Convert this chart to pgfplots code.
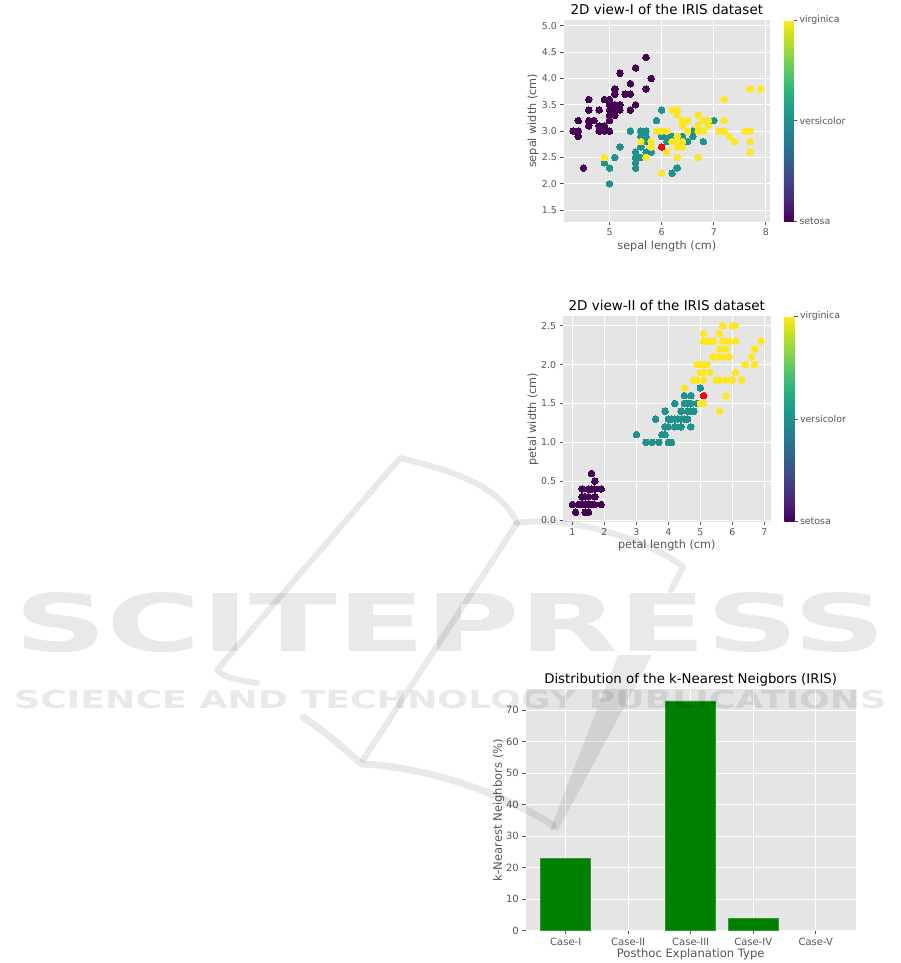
\documentclass[border=0pt]{standalone}
\usepackage{fontspec}
\setmainfont{DejaVu Sans}
\usepackage{graphicx}
\usepackage{pgfplots}
\pgfplotsset{compat=1.18}
\usepackage{pgfplotstable}

\definecolor{ggbg}{HTML}{E5E5E5}
\definecolor{ggtext}{HTML}{555555}
\definecolor{setosa}{HTML}{440154}
\definecolor{versi}{HTML}{21918C}
\definecolor{virgi}{HTML}{FDE725}
\definecolor{bargreen}{HTML}{008000}
\definecolor{wm}{gray}{0.915}

\pgfplotstableread{
sl sw pl pw
5.1 3.5 1.4 0.2
4.9 3.0 1.4 0.2
4.7 3.2 1.3 0.2
4.6 3.1 1.5 0.2
5.0 3.6 1.4 0.2
5.4 3.9 1.7 0.4
4.6 3.4 1.4 0.3
5.0 3.4 1.5 0.2
4.4 2.9 1.4 0.2
4.9 3.1 1.5 0.1
5.4 3.7 1.5 0.2
4.8 3.4 1.6 0.2
4.8 3.0 1.4 0.1
4.3 3.0 1.1 0.1
5.8 4.0 1.2 0.2
5.7 4.4 1.5 0.4
5.4 3.9 1.3 0.4
5.1 3.5 1.4 0.3
5.7 3.8 1.7 0.3
5.1 3.8 1.5 0.3
5.4 3.4 1.7 0.2
5.1 3.7 1.5 0.4
4.6 3.6 1.0 0.2
5.1 3.3 1.7 0.5
4.8 3.4 1.9 0.2
5.0 3.0 1.6 0.2
5.0 3.4 1.6 0.4
5.2 3.5 1.5 0.2
5.2 3.4 1.4 0.2
4.7 3.2 1.6 0.2
4.8 3.1 1.6 0.2
5.4 3.4 1.5 0.4
5.2 4.1 1.5 0.1
5.5 4.2 1.4 0.2
4.9 3.1 1.5 0.2
5.0 3.2 1.2 0.2
5.5 3.5 1.3 0.2
4.9 3.6 1.4 0.1
4.4 3.0 1.3 0.2
5.1 3.4 1.5 0.2
5.0 3.5 1.3 0.3
4.5 2.3 1.3 0.3
4.4 3.2 1.3 0.2
5.0 3.5 1.6 0.6
5.1 3.8 1.9 0.4
4.8 3.0 1.4 0.3
5.1 3.8 1.6 0.2
4.6 3.2 1.4 0.2
5.3 3.7 1.5 0.2
5.0 3.3 1.4 0.2
}\setosatab

\pgfplotstableread{
sl sw pl pw
7.0 3.2 4.7 1.4
6.4 3.2 4.5 1.5
6.9 3.1 4.9 1.5
5.5 2.3 4.0 1.3
6.5 2.8 4.6 1.5
5.7 2.8 4.5 1.3
6.3 3.3 4.7 1.6
4.9 2.4 3.3 1.0
6.6 2.9 4.6 1.3
5.2 2.7 3.9 1.4
5.0 2.0 3.5 1.0
5.9 3.0 4.2 1.5
6.0 2.2 4.0 1.0
6.1 2.9 4.7 1.4
5.6 2.9 3.6 1.3
6.7 3.1 4.4 1.4
5.6 3.0 4.5 1.5
5.8 2.7 4.1 1.0
6.2 2.2 4.5 1.5
5.6 2.5 3.9 1.1
5.9 3.2 4.8 1.8
6.1 2.8 4.0 1.3
6.3 2.5 4.9 1.5
6.1 2.8 4.7 1.2
6.4 2.9 4.3 1.3
6.6 3.0 4.4 1.4
6.8 2.8 4.8 1.4
6.7 3.0 5.0 1.7
6.0 2.9 4.5 1.5
5.7 2.6 3.5 1.0
5.5 2.4 3.8 1.1
5.5 2.4 3.7 1.0
5.8 2.7 3.9 1.2
6.0 2.7 5.1 1.6
5.4 3.0 4.5 1.5
6.0 3.4 4.5 1.6
6.7 3.1 4.7 1.5
6.3 2.3 4.4 1.3
5.6 3.0 4.1 1.3
5.5 2.5 4.0 1.3
5.5 2.6 4.4 1.2
6.1 3.0 4.6 1.4
5.8 2.6 4.0 1.2
5.0 2.3 3.3 1.0
5.6 2.7 4.2 1.3
5.7 3.0 4.2 1.2
5.7 2.9 4.2 1.3
6.2 2.9 4.3 1.3
5.1 2.5 3.0 1.1
5.7 2.8 4.1 1.3
}\versitab

\pgfplotstableread{
sl sw pl pw
6.3 3.3 6.0 2.5
5.8 2.7 5.1 1.9
7.1 3.0 5.9 2.1
6.3 2.9 5.6 1.8
6.5 3.0 5.8 2.2
7.6 3.0 6.6 2.1
4.9 2.5 4.5 1.7
7.3 2.9 6.3 1.8
6.7 2.5 5.8 1.8
7.2 3.6 6.1 2.5
6.5 3.2 5.1 2.0
6.4 2.7 5.3 1.9
6.8 3.0 5.5 2.1
5.7 2.5 5.0 2.0
5.8 2.8 5.1 2.4
6.4 3.2 5.3 2.3
6.5 3.0 5.5 1.8
7.7 3.8 6.7 2.2
7.7 2.6 6.9 2.3
6.0 2.2 5.0 1.5
6.9 3.2 5.7 2.3
5.6 2.8 4.9 2.0
7.7 2.8 6.7 2.0
6.3 2.7 4.9 1.8
6.7 3.3 5.7 2.1
7.2 3.2 6.0 1.8
6.2 2.8 4.8 1.8
6.1 3.0 4.9 1.8
6.4 2.8 5.6 2.1
7.2 3.0 5.8 1.6
7.4 2.8 6.1 1.9
7.9 3.8 6.4 2.0
6.4 2.8 5.6 2.2
6.3 2.8 5.1 1.5
6.1 2.6 5.6 1.4
7.7 3.0 6.1 2.3
6.3 3.4 5.6 2.4
6.4 3.1 5.5 1.8
6.0 3.0 4.8 1.8
6.9 3.1 5.4 2.1
6.7 3.1 5.6 2.4
6.9 3.1 5.1 2.3
5.8 2.7 5.1 1.9
6.8 3.2 5.9 2.3
6.7 3.3 5.7 2.5
6.7 3.0 5.2 2.3
6.3 2.5 5.0 1.9
6.5 3.0 5.2 2.0
6.2 3.4 5.4 2.3
5.9 3.0 5.1 1.8
}\virgitab

\pgfplotstableread{
sl sw pl pw
6.0 2.7 5.1 1.6
}\querytab

\pgfplotsset{
  ggstyle/.style={
    scale only axis,
    axis background/.style={fill=ggbg},
    axis line style={draw=none},
    grid=major,
    grid style={white, line width=1pt},
    tick align=outside,
    xtick pos=left, ytick pos=left,
    major tick length=3.3pt,
    tick style={color=ggtext, line width=0.8pt},
    ticklabel style={font=\fontsize{9.4}{11}\selectfont, color=ggtext, inner sep=0pt},
    xticklabel style={anchor=north, yshift=-3.8pt},
    yticklabel style={anchor=east, xshift=-3.4pt},
    /pgf/number format/assume math mode=true,
    label style={font=\fontsize{11.25}{13}\selectfont, color=ggtext},
    title style={font=\fontsize{13.5}{16}\selectfont, color=black, anchor=base, at={(0.5,1)}},
  },
  cbstyle/.style={
    colorbar style={
      at={(parent axis.north east)}, anchor=north west, xshift=5.3pt,
      width=10pt, height=#1, scale only axis,
      axis line style={draw=none},
      ytick={0,1,2}, yticklabels={setosa,versicolor,virginica},
      tick align=outside, major tick length=3.3pt,
      tick style={color=ggtext, line width=0.8pt},
      ytick pos=right, yticklabel pos=right,
      yticklabel style={anchor=west, xshift=2.2pt, inner sep=0pt, font=\fontsize{9.4}{11}\selectfont, color=ggtext},
    },
  },
  pts/.style={only marks, mark=*, mark size=3.3pt, color=#1, mark options={fill=#1, draw=#1, line width=0pt}},
}

\begin{document}
\begin{tikzpicture}
\path[use as bounding box] (0pt,0pt) rectangle (901pt,-963pt);

% ---------- View I ----------
\begin{axis}[ggstyle,
  at={(563.7pt,-221.7pt)}, anchor=south west,
  width=206.3pt, height=201.7pt,
  xmin=4.12, xmax=8.08, ymin=1.28, ymax=5.11,
  xtick={5,6,7,8},
  ytick={1.5,2,2.5,3,3.5,4,4.5,5},
  yticklabels={1.5,2.0,2.5,3.0,3.5,4.0,4.5,5.0},
  title={2D view-I of the IRIS dataset},
  xlabel={sepal length (cm)}, ylabel={sepal width (cm)},
  xlabel style={at={(axis description cs:0.5,-0.140)}, anchor=base},
  ylabel style={at={(axis description cs:-0.134,0.5)}, anchor=base},
  colormap/viridis, colorbar, point meta min=0, point meta max=2,
  cbstyle=201.7pt,
]
\addplot[pts=setosa] table[x=sl, y=sw] {\setosatab};
\addplot[pts=versi] table[x=sl, y=sw] {\versitab};
\addplot[pts=virgi] table[x=sl, y=sw] {\virgitab};
\addplot[pts=red] table[x=sl, y=sw] {\querytab};
\end{axis}

% ---------- View II ----------
\begin{axis}[ggstyle,
  at={(563pt,-521.6pt)}, anchor=south west,
  width=207.5pt, height=205.2pt,
  xmin=0.705, xmax=7.195, ymin=-0.02, ymax=2.62,
  xtick={1,2,3,4,5,6,7},
  ytick={0,0.5,1,1.5,2,2.5},
  yticklabels={0.0,0.5,1.0,1.5,2.0,2.5},
  title={2D view-II of the IRIS dataset},
  xlabel={petal length (cm)}, ylabel={petal width (cm)},
  xlabel style={at={(axis description cs:0.5,-0.130)}, anchor=base},
  ylabel style={at={(axis description cs:-0.130,0.5)}, anchor=base},
  colormap/viridis, colorbar, point meta min=0, point meta max=2,
  cbstyle=205.2pt,
]
\addplot[pts=setosa] table[x=pl, y=pw] {\setosatab};
\addplot[pts=versi] table[x=pl, y=pw] {\versitab};
\addplot[pts=virgi] table[x=pl, y=pw] {\virgitab};
\addplot[pts=red] table[x=pl, y=pw] {\querytab};
\end{axis}

% ---------- Bar chart ----------
\begin{axis}[ggstyle,
  at={(525.7pt,-930.7pt)}, anchor=south west,
  width=330pt, height=241.3pt,
  xmin=-0.64, xmax=4.64, ymin=0, ymax=76.65,
  xtick={0,1,2,3,4},
  xticklabels={Case-I,Case-II,Case-III,Case-IV,Case-V},
  ytick={0,10,20,30,40,50,60,70},
  ticklabel style={font=\fontsize{10}{12}\selectfont},
  label style={font=\fontsize{11.6}{13}\selectfont},
  title style={font=\fontsize{13.3}{16}\selectfont},
  ybar, bar width=0.8,
  title={Distribution of the k-Nearest Neigbors (IRIS)},
  xlabel={Posthoc Explanation Type}, ylabel={k-Nearest Neighbors (\%)},
  xlabel style={at={(axis description cs:0.5,-0.111)}, anchor=base},
  ylabel style={at={(axis description cs:-0.072,0.5)}, anchor=base},
]
\addplot[fill=bargreen, draw=bargreen!80!white, line width=0.5pt, restrict y to domain=0.5:1000] coordinates {(0,23) (1,0) (2,73) (3,4) (4,0)};
\end{axis}

% ---------- watermark ----------
\begin{scope}[blend mode=multiply, x=1pt, y=1pt]
\node[anchor=south west, inner sep=0pt, text=wm] at (14,-653) {\resizebox{872pt}{59pt}{\bfseries SCITEPRESS}};
\node[anchor=south west, inner sep=0pt, text=wm] at (14,-709) {\resizebox{872pt}{18.3pt}{\bfseries SCIENCE AND TECHNOLOGY PUBLICATIONS}};
\draw[wm, line width=6pt, line join=round, line cap=round] (257,-683) .. controls (235,-680) and (222,-676) .. (217,-670) -- (400,-458) .. controls (450,-470) and (500,-485) .. (517,-523) .. controls (570,-515) and (650,-540) .. (683,-567) -- (671,-590);
\draw[wm, line width=6pt, line cap=round] (517,-523) -- (363,-760);
\draw[wm, line width=7pt, line cap=round] (303,-717) .. controls (330,-735) and (345,-750) .. (362,-764) .. controls (400,-765) and (480,-780) .. (553,-825);
\fill[wm] (550,-830) -- (558,-830) -- (652,-655) -- (618,-655) -- cycle;
\end{scope}
\end{tikzpicture}
\end{document}
